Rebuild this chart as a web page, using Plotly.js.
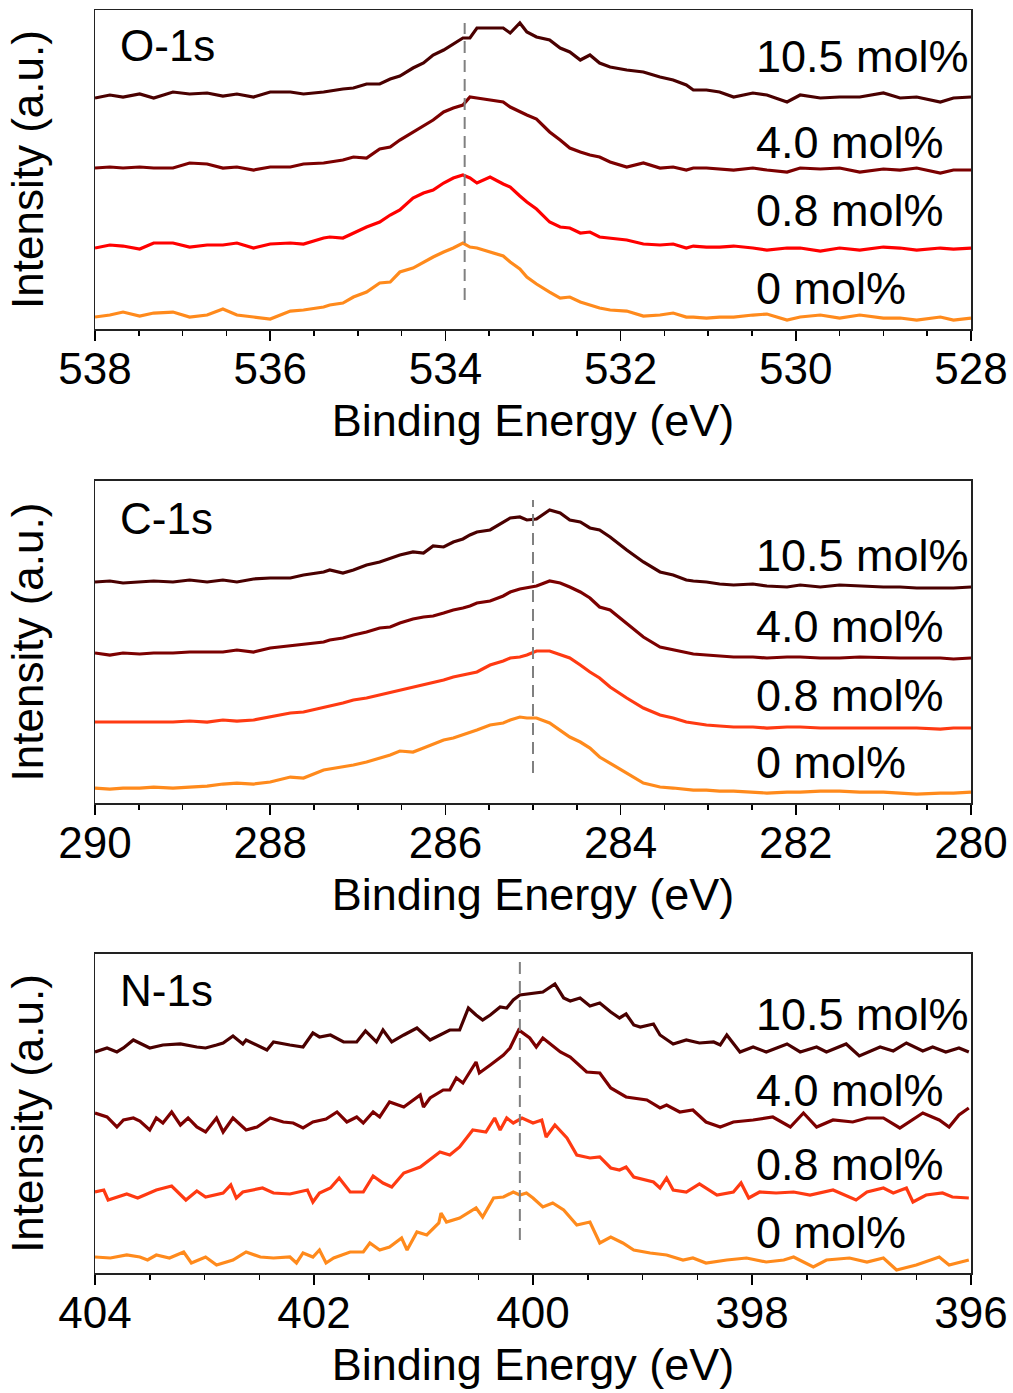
<!DOCTYPE html>
<html>
<head>
<meta charset="utf-8">
<script src="https://cdn.plot.ly/plotly-3.0.1.min.js"></script>
<style>html,body{margin:0;padding:0;background:#fff}</style>
</head>
<body>
<div id="chart" style="width:1013px;height:1393px"></div>
<script>
// ---------- DATA ----------
const seriesNames = ['10.5 mol%', '4.0 mol%', '0.8 mol%', '0 mol%'];
const panelNames = ['O-1s', 'C-1s', 'N-1s'];
const xTitle = 'Binding Energy (eV)';
const yTitle = 'Intensity (a.u.)';

// O-1s (binding energy grid, eV)
const oE = [538.0,537.83,537.68,537.49,537.33,537.11,536.92,536.72,536.54,536.38,536.19,536.0,535.77,535.62,535.39,535.32,535.17,535.05,534.90,534.75,534.63,534.52,534.37,534.25,534.14,534.02,533.91,533.80,533.72,533.64,533.49,533.34,533.26,533.15,533.07,532.96,532.81,532.69,532.58,532.46,532.35,532.24,532.12,531.93,531.74,531.55,531.40,531.25,531.17,531.02,530.87,530.71,530.49,530.33,530.10,529.95,529.72,529.50,529.27,529.00,528.81,528.62,528.35,528.20,528.0];
const oI_105 = [231,234,232,235,231,237,235,236,233,235,232,237,237,235,237,238,240,241,245,245,250,253,261,266,274,279,285,291,291,301,301,301,296,306,297,292,289,281,277,269,274,266,262,259,257,252,249,244,239,239,237,232,236,234,227,234,231,232,232,236,231,232,227,231,232];
const oI_40 = [161,162,161,162,161,161,166,165,161,162,159,162,162,165,166,167,169,172,171,180,182,189,197,203,209,217,221,224,232,231,229,227,222,217,214,210,197,189,181,177,174,172,167,162,166,161,162,159,161,161,160,159,161,159,157,161,160,161,157,160,159,161,156,159,159];
const oI_08 = [81,84,83,80,86,86,82,84,84,86,81,85,86,85,91,92,91,96,102,107,114,119,131,136,139,146,151,154,151,146,152,145,142,133,127,120,107,102,101,96,97,92,91,89,85,84,85,81,83,82,82,83,81,79,81,81,78,81,79,82,81,79,81,80,81];
const oI_0 = [12,14,17,13,16,17,12,14,20,14,12,10,18,19,22,24,26,32,37,46,47,57,61,67,72,77,81,86,82,81,77,73,67,60,52,45,37,31,32,27,24,21,19,18,13,14,16,12,12,11,12,12,14,15,9,12,14,11,14,11,11,9,12,9,11];

// C-1s
const cE = [290.0,289.83,289.68,289.49,289.33,289.11,288.92,288.72,288.54,288.38,288.19,288.0,287.77,287.62,287.39,287.32,287.17,287.05,286.90,286.75,286.63,286.52,286.37,286.25,286.14,286.02,285.91,285.80,285.72,285.64,285.49,285.34,285.26,285.15,285.07,284.96,284.81,284.69,284.58,284.46,284.35,284.24,284.12,283.93,283.74,283.55,283.40,283.25,283.17,283.02,282.87,282.71,282.49,282.33,282.10,281.95,281.72,281.50,281.27,281.00,280.81,280.62,280.35,280.20,280.0];
const cI_105 = [221,222,220,221,222,221,223,221,223,221,224,225,225,228,231,233,230,233,238,241,245,248,251,250,257,256,261,264,268,271,273,281,285,286,283,284,293,290,283,281,275,273,266,253,241,231,228,223,222,221,219,218,219,217,216,218,216,218,217,216,216,215,215,215,216];
const cI_40 = [150,148,150,149,150,150,151,151,151,153,151,155,157,159,161,163,165,168,171,175,176,180,184,186,187,190,193,195,197,200,202,207,211,214,215,217,222,220,216,211,205,196,193,180,166,156,153,150,149,148,147,146,146,145,146,146,145,145,146,145,145,145,145,144,145];
const cI_08 = [81,81,81,81,81,81,82,81,83,82,83,86,90,91,95,97,100,103,105,108,110,113,116,118,120,123,126,128,130,131,138,142,145,146,148,152,152,148,145,138,131,125,116,105,95,88,85,81,80,78,77,76,76,75,76,76,75,75,75,75,75,75,74,75,75];
const cI_0 = [15,14,15,15,16,15,16,17,19,20,19,21,26,25,33,34,36,38,41,45,48,52,51,55,59,63,65,68,71,73,78,80,83,86,85,85,80,73,66,61,55,46,40,30,20,16,15,14,13,13,12,12,11,10,11,11,12,12,11,11,10,9,10,10,11];

// N-1s
const nE_105 = [404.0,403.89,403.80,403.74,403.65,403.59,403.50,403.38,403.22,403.07,402.99,402.89,402.83,402.74,402.65,402.62,402.52,402.43,402.37,402.28,402.22,402.10,402.01,401.95,401.85,401.73,401.61,401.53,401.43,401.37,401.29,401.18,401.06,400.94,400.82,400.76,400.67,400.59,400.52,400.46,400.39,400.30,400.24,400.18,400.12,400.0,399.91,399.80,399.72,399.66,399.57,399.48,399.39,399.29,399.21,399.15,399.08,399.02,398.90,398.84,398.72,398.60,398.48,398.35,398.29,398.23,398.11,397.99,397.87,397.68,397.56,397.41,397.32,397.14,397.02,396.83,396.71,396.59,396.44,396.35,396.23,396.11,396.02];
const nI_105 = [221,225,221,225,233,230,225,228,229,226,225,228,230,237,229,233,228,223,231,229,228,226,240,236,238,231,231,242,231,243,231,238,245,233,240,243,243,265,258,253,258,266,265,273,278,280,281,289,275,272,275,267,270,261,255,259,248,246,249,238,229,233,230,231,228,238,221,226,221,229,221,226,221,229,217,226,222,230,222,226,221,225,221];
const nE_40 = [404.0,403.89,403.80,403.74,403.65,403.59,403.50,403.44,403.38,403.30,403.22,403.15,403.07,402.99,402.89,402.83,402.74,402.62,402.52,402.40,402.28,402.19,402.10,402.01,401.89,401.79,401.70,401.61,401.55,401.46,401.40,401.31,401.18,401.03,401.0,400.94,400.82,400.76,400.70,400.64,400.52,400.49,400.39,400.27,400.21,400.13,400.03,399.97,399.91,399.75,399.66,399.51,399.39,399.29,399.15,398.96,398.84,398.78,398.66,398.54,398.42,398.29,398.17,397.99,397.81,397.65,397.53,397.41,397.26,397.08,396.95,396.80,396.65,396.50,396.44,396.29,396.20,396.11,396.02];
const nI_40 = [160,156,146,153,155,152,143,155,150,161,148,155,146,141,155,141,155,143,146,155,151,150,145,151,154,161,151,156,150,161,156,171,166,178,166,175,183,183,195,190,211,200,208,218,225,243,235,226,235,221,216,201,200,185,176,173,165,168,161,163,151,146,151,153,156,146,160,146,153,151,155,155,145,156,160,153,146,158,165];
const nE_08 = [404.0,403.92,403.88,403.80,403.71,403.61,403.44,403.30,403.17,403.07,402.99,402.83,402.76,402.71,402.65,402.47,402.37,402.22,402.13,402.06,402.01,401.95,401.85,401.77,401.67,401.55,401.46,401.37,401.29,401.18,401.03,400.85,400.76,400.67,400.55,400.43,400.35,400.30,400.24,400.18,400.10,400.0,399.92,399.88,399.80,399.69,399.60,399.48,399.39,399.29,399.21,399.15,399.08,398.90,398.84,398.78,398.72,398.60,398.48,398.32,398.17,398.10,398.03,397.93,397.78,397.62,397.47,397.26,397.05,396.95,396.80,396.71,396.59,396.53,396.41,396.26,396.17,396.02];
const nI_08 = [81,83,73,76,79,75,83,87,73,82,76,80,88,75,81,85,80,79,81,83,71,80,85,95,81,81,97,90,86,100,106,121,118,126,143,141,155,143,155,150,155,150,153,136,148,135,118,115,116,105,103,106,96,91,85,95,83,81,89,78,81,90,75,81,80,81,78,83,73,81,85,80,85,71,78,80,76,75];
const nE_0 = [404.0,403.86,403.71,403.59,403.52,403.44,403.32,403.19,403.12,402.99,402.89,402.74,402.62,402.49,402.37,402.22,402.16,402.10,402.01,401.95,401.89,401.82,401.67,401.55,401.49,401.40,401.31,401.20,401.15,401.06,400.97,400.86,400.84,400.79,400.67,400.52,400.46,400.36,400.27,400.18,400.12,400.06,400.0,399.91,399.82,399.72,399.60,399.48,399.39,399.29,399.18,399.08,398.93,398.78,398.63,398.54,398.42,398.23,398.05,397.87,397.71,397.62,397.44,397.32,397.11,396.95,396.80,396.68,396.50,396.29,396.20,396.02];
const nI_0 = [16,15,18,16,13,18,15,21,10,16,8,13,21,16,15,16,10,20,16,23,10,15,21,21,30,23,26,35,23,41,38,50,60,51,55,65,56,75,76,81,78,80,75,66,70,63,48,51,30,36,30,23,20,18,13,15,10,13,15,11,13,16,6,13,15,11,15,3,8,16,8,13];

// axis ranges (eV) and peak reference lines
const xRanges = [[538, 528], [290, 280], [404, 396]];
const peakRef = [533.78, 285.0, 400.12];
const peakSpan = [[29, 306], [30, 303], [33, 311]];
const yMax = [319, 322, 319];

// ---------- STYLE ----------
const colors = [
  ['#4a0000', '#7c0000', '#ff0000', '#ff8a1c'],
  ['#4a0000', '#7c0000', '#ff3a12', '#ff8a1c'],
  ['#4a0000', '#7c0000', '#ff3a12', '#ff8a1c']
];
const yDomains = [[0.7474, 1.0], [0.3721, 0.6271], [0.0, 0.2526]];
const labelY = [[0.853, 0.586, 0.373, 0.1285], [0.770, 0.5466, 0.3354, 0.1273], [0.8088, 0.5705, 0.3386, 0.1254]];
const FONT = 'Liberation Sans, Arial, Helvetica, sans-serif';

const panels = [
  {xs: [oE, oE, oE, oE], ys: [oI_105, oI_40, oI_08, oI_0]},
  {xs: [cE, cE, cE, cE], ys: [cI_105, cI_40, cI_08, cI_0]},
  {xs: [nE_105, nE_40, nE_08, nE_0], ys: [nI_105, nI_40, nI_08, nI_0]}
];

const traces = [];
const shapes = [];
const annotations = [];
const layout = {
  width: 1013, height: 1393,
  margin: {l: 95, r: 42, t: 10, b: 120},
  showlegend: false,
  paper_bgcolor: '#ffffff', plot_bgcolor: '#ffffff',
  font: {family: FONT, color: '#000'}
};

panels.forEach((p, k) => {
  const xa = k === 0 ? 'x' : 'x' + (k + 1);
  const ya = k === 0 ? 'y' : 'y' + (k + 1);
  p.xs.forEach((xv, i) => {
    traces.push({
      x: xv, y: p.ys[i], xaxis: xa, yaxis: ya, type: 'scatter', mode: 'lines',
      name: panelNames[k] + ' ' + seriesNames[i],
      line: {color: colors[k][i], width: 3.2}, hoverinfo: 'x+y+name'
    });
    annotations.push({
      text: seriesNames[i], xref: xa + ' domain', yref: ya + ' domain',
      x: 0.752, y: labelY[k][i], xanchor: 'left', yanchor: 'middle',
      showarrow: false, font: {size: 45, family: FONT, color: '#000'}
    });
  });
  shapes.push({
    type: 'line', xref: xa, yref: ya, x0: peakRef[k], x1: peakRef[k],
    y0: peakSpan[k][0], y1: peakSpan[k][1],
    line: {color: '#808080', width: 2, dash: '12px,7px'}
  });
  annotations.push({
    text: panelNames[k], xref: xa + ' domain', yref: ya + ' domain',
    x: 0.026, y: [0.890, 0.885, 0.887][k], xanchor: 'left', yanchor: 'middle',
    showarrow: false, font: {size: 44, family: FONT, color: '#000'}
  });
  layout['xaxis' + (k === 0 ? '' : k + 1)] = {
    anchor: ya, range: xRanges[k], dtick: 2, tick0: 0,
    ticks: 'outside', ticklen: 10, tickwidth: 1.5, tickcolor: '#000',
    ticklabelstandoff: -9,
    minor: {dtick: 0.5, ticks: 'outside', ticklen: 5, tickwidth: 1.5, tickcolor: '#000'},
    showline: true, linewidth: 1.5, linecolor: '#222', mirror: true,
    showgrid: false, zeroline: false,
    tickfont: {size: 44, family: FONT, color: '#000'},
    title: {text: xTitle, font: {size: 45, family: FONT, color: '#000'}, standoff: 12}
  };
  layout['yaxis' + (k === 0 ? '' : k + 1)] = {
    anchor: xa, domain: yDomains[k], range: [0, yMax[k]],
    showticklabels: false, ticks: '',
    showline: true, linewidth: 1.5, linecolor: '#222', mirror: true,
    showgrid: false, zeroline: false,
    title: {text: yTitle, font: {size: 44, family: FONT, color: '#000'}, standoff: 36}
  };
});
layout.shapes = shapes;
layout.annotations = annotations;

Plotly.newPlot('chart', traces, layout, {displayModeBar: false, staticPlot: true});
</script>
</body>
</html>
